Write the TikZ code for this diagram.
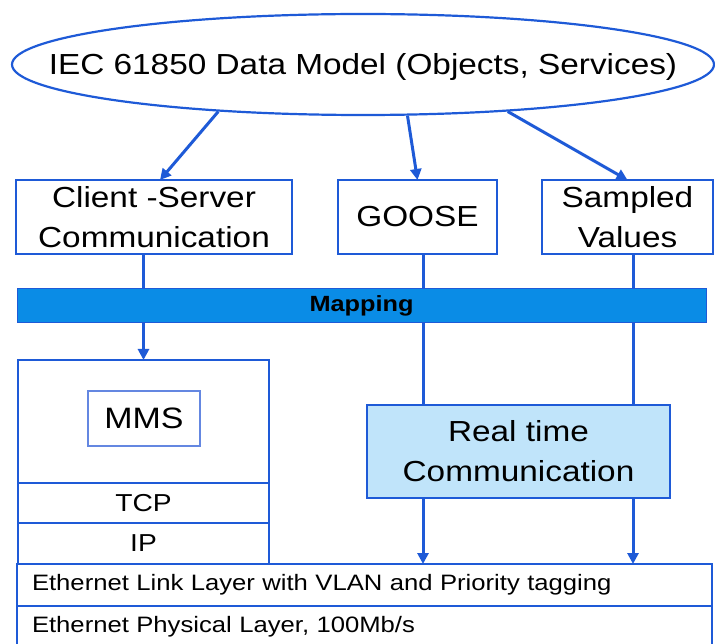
\documentclass[tikz,border=0pt]{standalone}
\usepackage{fontspec}
\setmainfont{Liberation Sans}[FakeStretch=1.15]
\usetikzlibrary{arrows.meta,shapes.geometric}

\definecolor{lineblue}{RGB}{30,90,215}
\definecolor{mapblue}{RGB}{10,140,230}
\definecolor{rtblue}{RGB}{192,228,250}
\definecolor{mmsblue}{RGB}{100,135,225}

\tikzset{
  box/.style={draw=lineblue, line width=2.6pt, fill=white, inner sep=0pt, outer sep=0pt, align=center},
  layer/.style={box, minimum width=695pt, minimum height=42pt, inner xsep=15pt, text width=665pt, align=left, font=\fontsize{22.3}{26}\selectfont},
  conn/.style={draw=lineblue, line width=3pt},
  tip/.style={-{Triangle[length=11pt,width=11pt]}}
}

\begin{document}
\begin{tikzpicture}[x=1pt,y=-1pt]
\useasboundingbox (0,0) rectangle (715,644);
% data model on top
\node[ellipse, draw=lineblue, line width=2.2pt, minimum width=702pt, minimum height=101pt, inner sep=0pt,
      label={[font=\fontsize{29}{34}\selectfont, yshift=-3pt]center:{IEC 61850 Data Model (Objects, Services)}}] (model) at (363,64.5) {};
% services
\node[box, minimum width=276pt, minimum height=74pt, font=\fontsize{29}{40}\selectfont] (client) at (154,217) {Client -Server\\Communication};
\node[box, minimum width=159pt, minimum height=74pt, font=\fontsize{29}{40}\selectfont] (goose) at (417.5,217) {GOOSE};
\node[box, minimum width=171pt, minimum height=74pt, font=\fontsize{29}{40}\selectfont] (sampled) at (627.5,217) {Sampled\\Values};
% client-server stack
\node[box, minimum width=251pt, minimum height=123pt] (stack) at (143.5,421.5) {};
\node[draw=mmsblue, line width=1.6pt, minimum width=112pt, minimum height=55pt, inner sep=0pt,
      font=\fontsize{29.5}{34}\selectfont] (mms) at (144,418.5) {MMS};
\node[box, minimum width=251pt, minimum height=40pt, font=\fontsize{24.5}{28}\selectfont] (tcp) at (143.5,503) {TCP};
\node[box, minimum width=251pt, minimum height=41pt, font=\fontsize{24.5}{28}\selectfont] (ip) at (143.5,543.5) {IP};
% real time path
\node[box, fill=rtblue, minimum width=303pt, minimum height=93pt, font=\fontsize{29}{40}\selectfont] (rt) at (518.5,451.5) {Real time\\Communication};
% ethernet layers
\node[layer] (link) at (364.5,585) {Ethernet Link Layer with VLAN and Priority tagging};
\node[layer] (phys) at (364.5,627) {Ethernet Physical Layer, 100Mb/s};

% connectors
\draw[conn, tip] (model.198.6) -- ([xshift=6pt]client.north);
\draw[conn, tip] (model.311) -- (goose.north);
\draw[conn, tip] (model.342.5) -- (sampled.north);
\coordinate (gdown) at ([xshift=5.5pt]goose.south);
\coordinate (sdown) at ([xshift=5.5pt]sampled.south);
\draw[conn, tip] (stack.north |- client.south) -- (stack.north);
\draw[conn] (gdown) -- (gdown |- rt.north);
\draw[conn] (sdown) -- (sdown |- rt.north);
\draw[conn, tip] (gdown |- rt.south) -- (gdown |- link.north);
\draw[conn, tip] (sdown |- rt.south) -- (sdown |- link.north);

% mapping bar over the lines
\node[fill=mapblue, draw=lineblue, line width=1pt, minimum width=689pt, minimum height=34pt, inner sep=0pt,
      font=\bfseries\fontsize{22}{26}\selectfont] (mapping) at (361.5,306) {Mapping};
\end{tikzpicture}
\end{document}
